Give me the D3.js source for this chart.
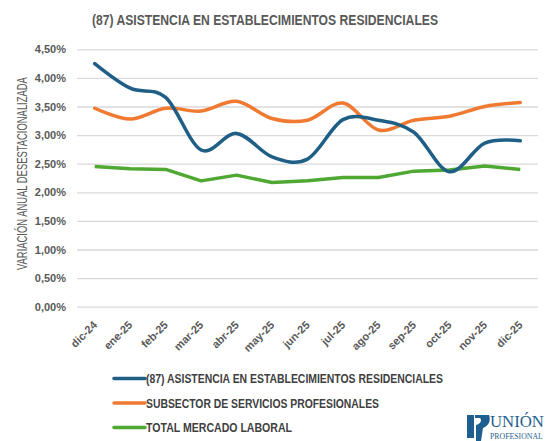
<!DOCTYPE html>
<html><head><meta charset="utf-8">
<script src="https://cdn.jsdelivr.net/npm/d3@7"></script>
<style>body{margin:0;background:#fff}svg{display:block}</style>
</head><body>
<script>
const categories = ["dic-24","ene-25","feb-25","mar-25","abr-25","may-25","jun-25","jul-25","ago-25","sep-25","oct-25","nov-25","dic-25"];
const asistencia = [4.25,3.82,3.66,2.74,3.03,2.62,2.58,3.27,3.26,3.05,2.36,2.86,2.90];
const subsector = [3.47,3.28,3.47,3.42,3.59,3.29,3.26,3.56,3.09,3.26,3.33,3.50,3.57];
const total = [2.45,2.41,2.40,2.20,2.30,2.17,2.20,2.26,2.26,2.37,2.39,2.46,2.40];
const yTicks = [0,0.5,1,1.5,2,2.5,3,3.5,4,4.5];
const seriesNames = ["(87) ASISTENCIA EN ESTABLECIMIENTOS RESIDENCIALES","SUBSECTOR DE SERVICIOS PROFESIONALES","TOTAL MERCADO LABORAL"];
const colors = ["#1f5f86","#f07a32","#4fa832"];

const W=547,H=441;
const font = "'Liberation Sans',Arial,sans-serif";
const svg = d3.select("body").append("svg").attr("width",W).attr("height",H).style("font-family",font);

// condensed text helper: scales text horizontally to a target width
function squeeze(sel, target){
  const n = sel.node().getComputedTextLength();
  return n > 0 ? target / n : 1;
}

const x = d3.scaleBand().domain(categories).range([77,538]);
const y = d3.scaleLinear().domain([0,4.5]).range([306.7,49.3]);
const cx = d => x(d)+x.bandwidth()/2;

svg.append("text").attr("x",92).attr("y",25)
  .attr("font-size",14.5).attr("font-weight","bold").attr("fill","#595959")
  .attr("textLength",346).attr("lengthAdjust","spacingAndGlyphs")
  .text("(87) ASISTENCIA EN ESTABLECIMIENTOS RESIDENCIALES");

// grid
const yAxis = d3.axisLeft(y).tickValues(yTicks).tickSize(-(538-77))
  .tickFormat(d => d.toFixed(2).replace(".",",")+"%");
const gy = svg.append("g").attr("transform","translate(77,0)").call(yAxis);
gy.select(".domain").remove();
gy.selectAll(".tick line").attr("stroke","#d9d9d9").attr("stroke-width",1.3);
gy.selectAll(".tick text").attr("x",-11).attr("font-size",11).attr("font-weight","bold")
  .attr("fill","#595959").style("font-family",font);

const yt = svg.append("text").attr("font-size",14).attr("fill","#595959").style("font-family",font)
  .text("VARIACIÓN ANUAL DESESTACIONALIZADA");
const ys = squeeze(yt,193);
yt.attr("transform",`translate(27,270) rotate(-90) scale(${ys},1)`);

// x axis labels
const xAxis = d3.axisBottom(x).tickSize(0);
const gx = svg.append("g").attr("transform","translate(0,306.7)").call(xAxis);
gx.select(".domain").remove();
gx.selectAll(".tick text").attr("font-size",11).attr("font-weight","bold").attr("fill","#595959")
  .style("font-family",font).attr("text-anchor","end").attr("dy",0).attr("y",0)
  .attr("transform","translate(3,19) rotate(-45)");

const smooth = d3.line().x((d,i)=>cx(categories[i])).y(d=>y(d)).curve(d3.curveCatmullRom.alpha(0));
const straight = d3.line().x((d,i)=>cx(categories[i])).y(d=>y(d));

svg.append("path").attr("d",straight(total)).attr("fill","none").attr("stroke",colors[2]).attr("stroke-width",3.5).attr("stroke-linejoin","round");
svg.append("path").attr("d",smooth(subsector)).attr("fill","none").attr("stroke",colors[1]).attr("stroke-width",3.5).attr("stroke-linecap","round");
svg.append("path").attr("d",smooth(asistencia)).attr("fill","none").attr("stroke",colors[0]).attr("stroke-width",3.5).attr("stroke-linecap","round");

// legend
const ly = [378.5,403,427.5];
const lw = [297,233,146];
seriesNames.forEach((n,i)=>{
  svg.append("line").attr("x1",114).attr("x2",145).attr("y1",ly[i]).attr("y2",ly[i])
    .attr("stroke",colors[i]).attr("stroke-width",3.5).attr("stroke-linecap","round");
  svg.append("text").attr("x",146).attr("y",ly[i]+4.5).attr("font-size",12.5).attr("font-weight","bold")
    .attr("fill","#404040").attr("textLength",lw[i]).attr("lengthAdjust","spacingAndGlyphs").text(n);
});

// logo
const lg = svg.append("g");
lg.append("path").attr("d","M467,415 L474,415 L474,438 L467,438 Z").attr("fill","#1f5f8f");
lg.append("path").attr("d","M475,415 L489,415 C491,420 489,426 483,428 L481,441 L476,441 L476,425 C481,424 482,420 480,418 L475,418 Z").attr("fill","#1f5f8f");
const u = lg.append("text").attr("font-family","'Liberation Serif','DejaVu Serif',serif")
  .attr("font-size",16).attr("fill","#1f5f8f").text("UNIÓN");
u.attr("transform",`translate(490,427) scale(${squeeze(u,54)},1)`);
const p = lg.append("text").attr("font-family","'Liberation Serif','DejaVu Serif',serif")
  .attr("font-size",9).attr("fill","#1f5f8f").text("PROFESIONAL");
p.attr("transform",`translate(490,438.5) scale(${squeeze(p,53)},1)`);
</script>
</body></html>
